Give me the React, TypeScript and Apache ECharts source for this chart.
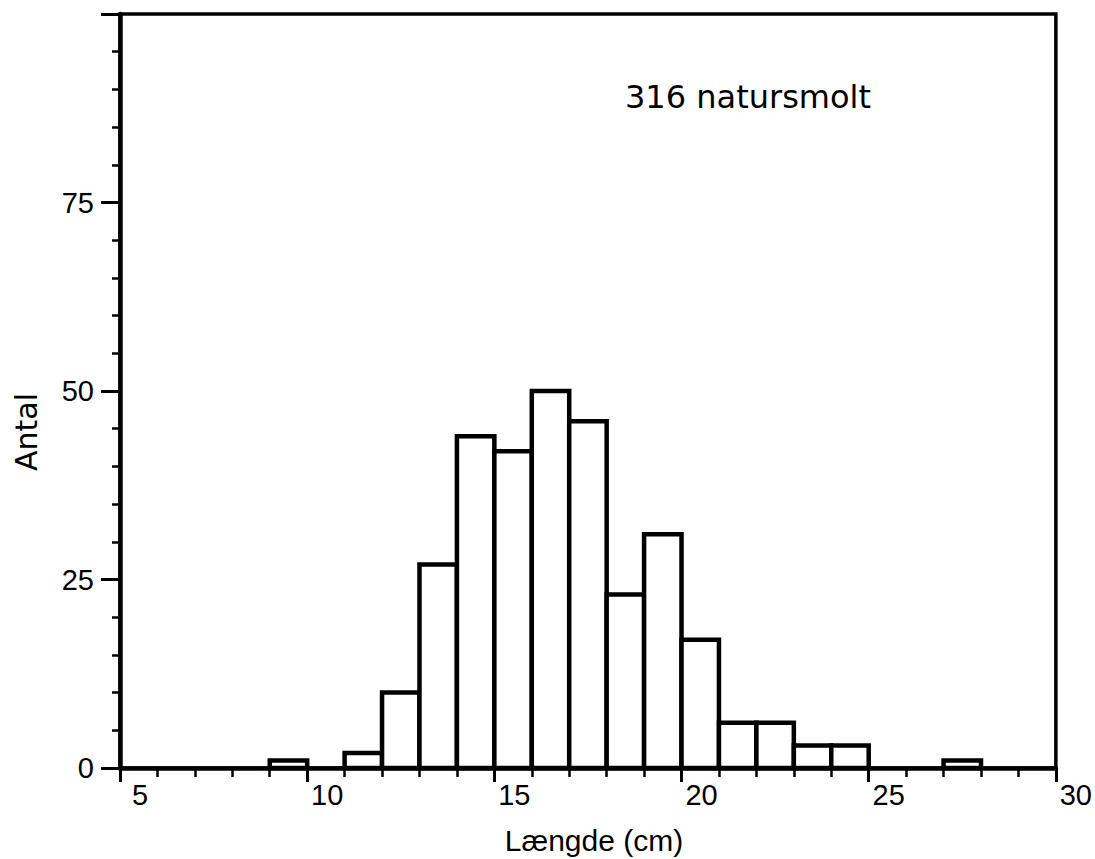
import React, { useEffect, useRef } from "react";
import * as echarts from "echarts";

// Histogram of lengths (cm): bin start and counts (bin width 1 cm)
const binStart = [9, 11, 12, 13, 14, 15, 16, 17, 18, 19, 20, 21, 22, 23, 24, 27];
const counts = [1, 2, 10, 27, 44, 42, 50, 46, 23, 31, 17, 6, 6, 3, 3, 1];
const binWidth = 1;

const xTicks = { min: 5, max: 30, interval: 5 };
const yTicks = { min: 0, max: 100, interval: 25 };

const title = "316 natursmolt";
const xName = "Længde (cm)";
const yName = "Antal";

export default function App() {
  const ref = useRef<HTMLDivElement>(null);
  useEffect(() => {
    if (!ref.current) return;
    const chart = echarts.init(ref.current, undefined, { renderer: "svg" });
    const data = binStart.map((s, i) => [s, counts[i]]);
    chart.setOption({
      animation: false,
      backgroundColor: "#fff",
      grid: {
        left: 120,
        right: 28,
        top: 14,
        bottom: 91,
        show: true,
        borderColor: "#000",
        borderWidth: 3.5,
        backgroundColor: "transparent",
      },
      xAxis: {
        type: "value",
        min: xTicks.min,
        max: xTicks.max,
        interval: xTicks.interval,
        axisLine: { show: true, onZero: false, lineStyle: { color: "#000", width: 4.5 } },
        axisTick: { show: true, length: 14, lineStyle: { color: "#000", width: 3 } },
        minorTick: { show: true, splitNumber: 5, length: 9, lineStyle: { color: "#000", width: 2.5 } },
        splitLine: { show: false },
        axisLabel: {
          fontSize: 29,
          fontFamily: "Liberation Sans",
          color: "#000",
          margin: 12,
          padding: [0, 0, 0, 40],
        },
      },
      yAxis: {
        type: "value",
        min: yTicks.min,
        max: yTicks.max,
        interval: yTicks.interval,
        axisLine: { show: true, lineStyle: { color: "#000", width: 4.5 } },
        axisTick: { show: true, length: 19, lineStyle: { color: "#000", width: 3 } },
        minorTick: { show: true, splitNumber: 5, length: 8, lineStyle: { color: "#000", width: 2.5 } },
        splitLine: { show: false },
        axisLabel: {
          fontSize: 29,
          fontFamily: "Liberation Sans",
          color: "#000",
          margin: 26,
          formatter: (v: number) => (v === 100 ? "" : String(v)),
        },
      },
      series: [
        {
          type: "custom",
          data,
          encode: { x: 0, y: 1 },
          renderItem: (params: any, api: any) => {
            const x0 = api.value(0);
            const v = api.value(1);
            const p0 = api.coord([x0, 0]);
            const p1 = api.coord([x0 + binWidth, v]);
            return {
              type: "rect",
              shape: { x: p0[0], y: p1[1], width: p1[0] - p0[0], height: p0[1] - p1[1] },
              style: { fill: "#fff", stroke: "#000", lineWidth: 4.5 },
            };
          },
        },
      ],
      graphic: [
        {
          type: "text",
          x: 625,
          y: 97,
          style: {
            text: title,
            fontSize: 32,
            fontFamily: "DejaVu Sans",
            fill: "#000",
            align: "left",
            verticalAlign: "middle",
          },
        },
        {
          type: "text",
          x: 594,
          y: 840,
          style: {
            text: xName,
            fontSize: 30,
            fontFamily: "Liberation Sans",
            fill: "#000",
            align: "center",
            verticalAlign: "middle",
          },
        },
        {
          type: "text",
          x: 26,
          y: 432,
          rotation: Math.PI / 2,
          style: {
            text: yName,
            fontSize: 30,
            fontFamily: "DejaVu Sans",
            fill: "#000",
            align: "center",
            verticalAlign: "middle",
          },
        },
      ],
    });
    return () => chart.dispose();
  }, []);
  return (
    <div
      ref={ref}
      style={{ position: "fixed", left: 0, top: 0, width: 1095, height: 859, background: "#fff" }}
    />
  );
}
